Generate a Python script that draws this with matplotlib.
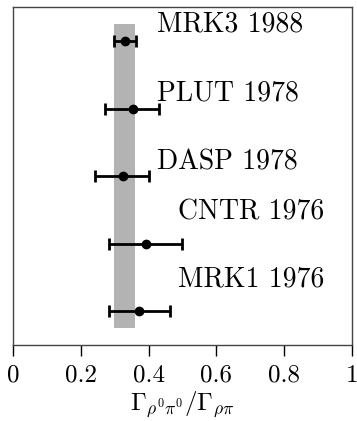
import matplotlib
matplotlib.use('Agg')
from matplotlib import pyplot as plt

plt.rcParams['font.family'] = 'serif'
plt.rcParams['font.serif'] = ['cmr10']
plt.rcParams['mathtext.fontset'] = 'cm'
plt.rcParams['axes.formatter.use_mathtext'] = True

experiments = ['MRK3 1988', 'PLUT 1978', 'DASP 1978', 'CNTR 1976', 'MRK1 1976']
values = [0.33, 0.353, 0.324, 0.392, 0.373]
err_low = [0.032, 0.081, 0.082, 0.109, 0.09]
err_high = [0.033, 0.079, 0.078, 0.108, 0.09]
band = [0.298, 0.36]
tick_vals = [0, 0.2, 0.4, 0.6, 0.8, 1]
tick_labels = ['0', '0.2', '0.4', '0.6', '0.8', '1']

# rows from top to bottom
ypos = [5, 4, 3, 2, 1]
label_x = [0.425, 0.425, 0.425, 0.487, 0.487]
label_dy = [0.24, 0.23, 0.21, 0.46, 0.47]

fig, ax = plt.subplots(figsize=(3.57, 4.21), dpi=100)
fig.subplots_adjust(left=0.036, right=0.986, top=0.983, bottom=0.18)

# average band
ax.fill_betweenx([0.75, 5.25], band[0], band[1], color='#b3b3b3', lw=0)

ax.errorbar(values, ypos, xerr=[err_low, err_high], fmt='o', color='black',
            ms=6, elinewidth=2, capsize=4, capthick=2)

for name, x, y, dy in zip(experiments, label_x, ypos, label_dy):
    ax.text(x, y + dy, name, fontsize=20, va='center', ha='left')

ax.set_xlim(0, 1)
ax.set_ylim(0.5, 5.5)
ax.set_yticks([])
ax.set_xticks(tick_vals)
ax.set_xticklabels(tick_labels)
ax.tick_params(axis='x', direction='out', length=8, width=1, labelsize=18, pad=6)
for s in ax.spines.values():
    s.set_color('#444444')
    s.set_linewidth(1)
ax.set_xlabel(r'$\Gamma_{\rho^0\pi^0}/\Gamma_{\rho\pi}$', fontsize=18, labelpad=2)

plt.savefig('out.png')
